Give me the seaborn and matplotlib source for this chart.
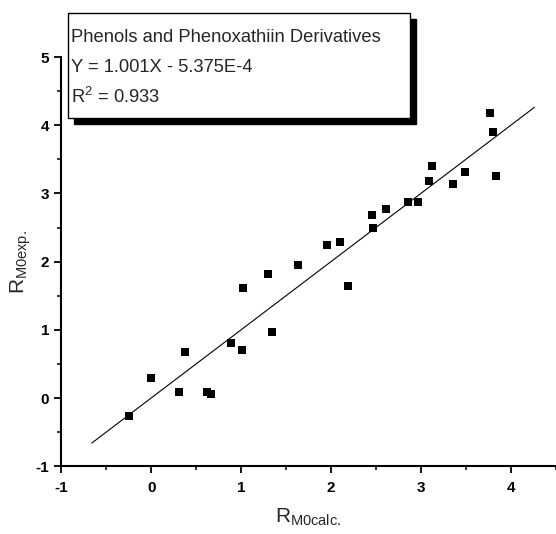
import matplotlib

matplotlib.use("Agg")

import matplotlib.pyplot as plt
import numpy as np
import pandas as pd
import seaborn as sns
from matplotlib.patches import Rectangle

R_CALC = [-0.25, 0.00, 0.31, 0.38, 0.62, 0.66, 0.89, 1.01, 1.34,
          1.02, 1.30, 1.63, 1.95, 2.10, 2.19, 2.46, 2.47, 2.61,
          2.85, 2.97, 3.09, 3.12, 3.36, 3.49, 3.77, 3.80, 3.83]
R_EXP = [-0.27, 0.30, 0.09, 0.67, 0.09, 0.06, 0.81, 0.70, 0.97,
         1.62, 1.82, 1.95, 2.25, 2.29, 1.65, 2.69, 2.50, 2.77,
         2.87, 2.87, 3.18, 3.40, 3.14, 3.32, 4.18, 3.90, 3.26]

FIT_SLOPE = 1.001
FIT_INTERCEPT = -5.375e-4
FIT_X = [-0.66, 4.26]

BOX_LINES = [
    "Phenols and Phenoxathiin Derivatives",
    "Y = 1.001X - 5.375E-4",
    "R$^2$ = 0.933",
]
X_TICKS = [-1, 0, 1, 2, 3, 4]
Y_TICKS = [-1, 0, 1, 2, 3, 4, 5]


def set_style() -> None:
    sns.set_theme(style="ticks")
    plt.rcParams.update(
        {
            "font.family": ["Liberation Sans", "DejaVu Sans"],
            "mathtext.fontset": "custom",
            "mathtext.rm": "Liberation Sans",
            "mathtext.it": "Liberation Sans",
            "axes.unicode_minus": False,
            "axes.linewidth": 1.5,
            "xtick.major.width": 1.3,
            "ytick.major.width": 1.3,
            "xtick.minor.width": 1.1,
            "ytick.minor.width": 1.1,
            "xtick.major.size": 5,
            "ytick.major.size": 5,
            "xtick.minor.size": 3,
            "ytick.minor.size": 3,
            "xtick.color": "black",
            "ytick.color": "black",
            "axes.edgecolor": "black",
        }
    )


def main() -> None:
    set_style()
    df = pd.DataFrame({"calc": R_CALC, "exp": R_EXP})
    fit = pd.DataFrame({"x": FIT_X})
    fit["y"] = FIT_SLOPE * fit["x"] + FIT_INTERCEPT

    fig = plt.figure(figsize=(5.56, 5.34), dpi=100)
    ax = fig.add_axes([0.110, 0.127, 0.890, 0.766])

    sns.lineplot(data=fit, x="x", y="y", color="black", linewidth=0.8, ax=ax)
    sns.scatterplot(data=df, x="calc", y="exp", marker="s", s=36, color="black",
                    edgecolor="black", linewidth=0, ax=ax, zorder=3)

    ax.set_xlim(-1, 4.5)
    ax.set_ylim(-1, 5)
    ax.set_xticks(X_TICKS)
    ax.set_yticks(Y_TICKS)
    ax.set_xticks(np.arange(-0.5, 4.6, 1.0), minor=True)
    ax.set_yticks(np.arange(-0.5, 5.0, 1.0), minor=True)
    ax.tick_params(axis="both", which="both", direction="out", labelsize=11)
    for lab in ax.get_xticklabels() + ax.get_yticklabels():
        lab.set_fontweight("bold")
    ax.tick_params(axis="x", pad=6)
    sns.despine(ax=ax)

    ax.set_xlabel(r"R$_{\mathrm{M0calc.}}$", fontsize=15, labelpad=8)
    ax.set_ylabel(r"R$_{\mathrm{M0exp.}}$", fontsize=15, labelpad=2)

    # legend-like box with drop shadow (figure coordinates)
    x0, x1 = 68 / 556, 410 / 556
    y0, y1 = 1 - 118 / 534, 1 - 13 / 534
    dx, dy = 6 / 556, 6 / 534
    fig.patches.append(Rectangle((x0 + dx, y0 - dy), x1 - x0, y1 - y0, transform=fig.transFigure,
                                 facecolor="black", edgecolor="black", zorder=5))
    fig.patches.append(Rectangle((x0, y0), x1 - x0, y1 - y0, transform=fig.transFigure,
                                 facecolor="white", edgecolor="black", linewidth=1.0, zorder=6))
    for i, line in enumerate(BOX_LINES):
        fig.text(71 / 556, 1 - (37 + 30 * i) / 534, line, fontsize=13.2, ha="left", va="center", zorder=7)

    fig.savefig("out.png", dpi=100)
    plt.close(fig)


if __name__ == "__main__":
    main()
